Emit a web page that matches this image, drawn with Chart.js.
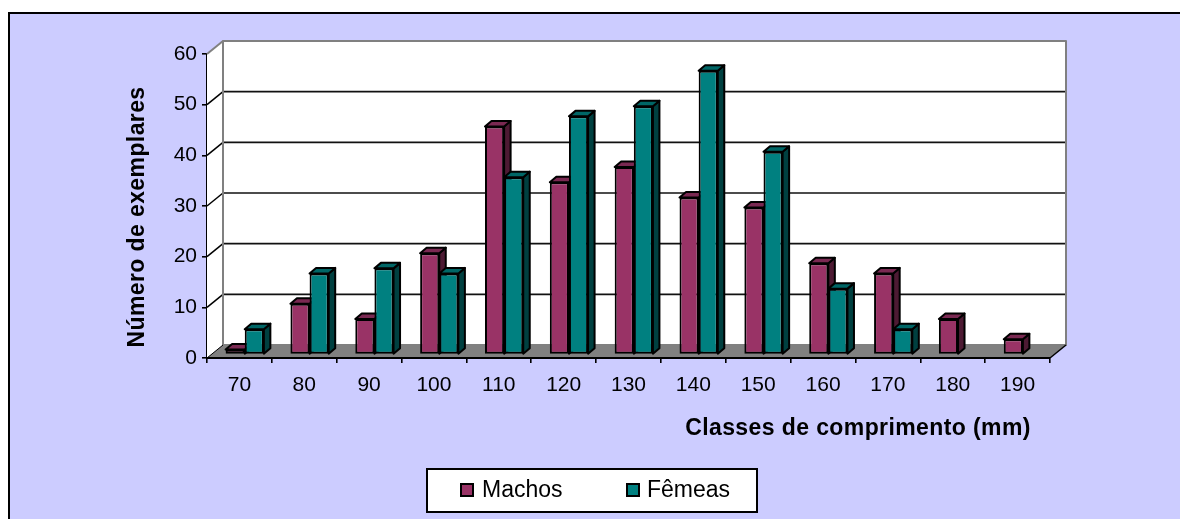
<!DOCTYPE html>
<html lang="pt">
<head>
    <meta charset="UTF-8">
    <title>Classes de comprimento</title>
    <script src="https://cdn.jsdelivr.net/npm/chart.js"></script>
    <style>
        html, body {
            margin: 0;
            background: #fff;
            overflow: hidden;
        }
        /* panel runs off the right and bottom of the window */
        .chart-panel {
            position: absolute;
            left: 8px;
            top: 12px;
            width: 1300px;
            height: 600px;
            border: 2px solid #000;
            background: #ccccff;
        }
        #graph {
            position: absolute;
            left: 0;
            top: 0;
        }
    </style>
</head>
<body>
    <div class="chart-panel"></div>
    <canvas id="graph" width="1180" height="519"></canvas>

    <script>
        const categories = ['70', '80', '90', '100', '110', '120', '130', '140', '150', '160', '170', '180', '190'];
        const machos = [1, 10, 7, 20, 45, 34, 37, 31, 29, 18, 16, 7, 3];
        const femeas = [5, 16, 17, 16, 35, 47, 49, 56, 40, 13, 5, 0, 0];

        const FONT = '"Liberation Sans", Arial, sans-serif';

        // box depth of the walls and floor, and of the bars standing on the floor
        const WALL_DX = 16, WALL_DY = -13;
        const BAR_DX = 5.3, BAR_DY = -3.5;
        const SIDE_DX = 6.5, SIDE_DY = -5.5;

        const seriesStyles = [
            { front: '#993366', side: '#4d1a33', top: '#7a2952' },
            { front: '#008080', side: '#004040', top: '#006666' }
        ];

        function polygon(ctx, pts, fill, stroke, lineWidth) {
            ctx.beginPath();
            pts.forEach((p, i) => i ? ctx.lineTo(p[0], p[1]) : ctx.moveTo(p[0], p[1]));
            ctx.closePath();
            if (fill) {
                ctx.fillStyle = fill;
                ctx.fill();
            }
            if (stroke) {
                ctx.strokeStyle = stroke;
                ctx.lineWidth = lineWidth;
                ctx.lineJoin = 'round';
                ctx.stroke();
            }
        }

        function line(ctx, x1, y1, x2, y2, color, width) {
            ctx.beginPath();
            ctx.moveTo(x1, y1);
            ctx.lineTo(x2, y2);
            ctx.strokeStyle = color;
            ctx.lineWidth = width;
            ctx.stroke();
        }

        // walls, floor and gridlines behind the bars
        const boxPlugin = {
            id: 'box',
            beforeDatasetsDraw(chart) {
                const ctx = chart.ctx;
                const { left, right, top, bottom } = chart.chartArea;
                const yScale = chart.scales.y;
                ctx.save();
                polygon(ctx, [[left, top], [left + WALL_DX, top + WALL_DY], [left + WALL_DX, bottom + WALL_DY], [left, bottom]], '#fff');
                polygon(ctx, [[left + WALL_DX, top + WALL_DY], [right + WALL_DX, top + WALL_DY], [right + WALL_DX, bottom + WALL_DY], [left + WALL_DX, bottom + WALL_DY]], '#fff');

                yScale.ticks.forEach(tick => {
                    if (tick.value === 0 || tick.value === yScale.max) return;
                    const y = yScale.getPixelForValue(tick.value);
                    line(ctx, left, y, left + WALL_DX, y + WALL_DY, '#000', 1.5);
                    line(ctx, left + WALL_DX, y + WALL_DY, right + WALL_DX, y + WALL_DY, '#111', 1.6);
                });

                polygon(ctx, [[left + WALL_DX, top + WALL_DY], [right + WALL_DX, top + WALL_DY], [right + WALL_DX, bottom + WALL_DY], [left + WALL_DX, bottom + WALL_DY]], null, '#808080', 2);
                line(ctx, left, top, left + WALL_DX, top + WALL_DY, '#808080', 2);
                polygon(ctx, [[left, bottom], [right, bottom], [right + WALL_DX, bottom + WALL_DY], [left + WALL_DX, bottom + WALL_DY]], '#808080');
                line(ctx, right, bottom, right + WALL_DX, bottom + WALL_DY, '#000', 1.5);
                line(ctx, left, bottom, left + WALL_DX, bottom + WALL_DY, '#000', 1);
                line(ctx, left - 1, bottom, right, bottom, '#000', 2);
                ctx.restore();

                // bars go category by category so each one covers its left neighbour's side
                categories.forEach((_, i) => {
                    chart.data.datasets.forEach((ds, d) => {
                        if (!ds.data[i]) return;
                        drawBar(ctx, chart.getDatasetMeta(d).data[i], seriesStyles[d]);
                    });
                });
                return false;
            },
            afterDraw(chart) {
                drawTitles(chart.ctx);
                drawLegend(chart.ctx);
            }
        };

        function drawBar(ctx, bar, style) {
            const half = bar.width / 2;
            const xl = bar.x - half, xr = bar.x + half;
            ctx.save();
            ctx.translate(BAR_DX, BAR_DY);
            polygon(ctx, [[xr, bar.y], [xr + SIDE_DX, bar.y + SIDE_DY], [xr + SIDE_DX, bar.base + SIDE_DY], [xr, bar.base]], style.side, '#000', 2);
            polygon(ctx, [[xl, bar.y], [xl + SIDE_DX, bar.y + SIDE_DY], [xr + SIDE_DX, bar.y + SIDE_DY], [xr, bar.y]], style.top, '#000', 2);
            bar.draw(ctx);
            ctx.restore();
        }

        function drawTitles(ctx) {
            ctx.save();
            ctx.fillStyle = '#000';
            ctx.font = 'bold 23px ' + FONT;
            ctx.textAlign = 'center';
            ctx.textBaseline = 'middle';
            ctx.letterSpacing = '0.4px';
            ctx.fillText('Classes de comprimento (mm)', 858, 429);
            ctx.translate(138, 217);
            ctx.rotate(-Math.PI / 2);
            ctx.fillText('Número de exemplares', 0, 0);
            ctx.restore();
        }

        function drawLegend(ctx) {
            ctx.save();
            ctx.fillStyle = '#fff';
            ctx.fillRect(427, 469, 330, 43);
            ctx.strokeStyle = '#000';
            ctx.lineWidth = 2;
            ctx.strokeRect(427, 469, 330, 43);
            [['Machos', 461, 482], ['Fêmeas', 627, 647]].forEach((entry, i) => {
                ctx.fillStyle = seriesStyles[i].front;
                ctx.fillRect(entry[1], 484, 12, 12);
                ctx.strokeRect(entry[1], 484, 12, 12);
                ctx.fillStyle = '#000';
                ctx.font = '23px ' + FONT;
                ctx.textBaseline = 'middle';
                ctx.fillText(entry[0], entry[2], 491);
            });
            ctx.restore();
        }

        new Chart(document.getElementById('graph'), {
            type: 'bar',
            data: {
                labels: categories,
                datasets: [
                    { label: 'Machos', data: machos, backgroundColor: seriesStyles[0].front },
                    { label: 'Fêmeas', data: femeas, backgroundColor: seriesStyles[1].front }
                ]
            },
            options: {
                responsive: false,
                animation: false,
                layout: { padding: { left: 0, right: 130, top: 54, bottom: 0 } },
                datasets: {
                    bar: {
                        barPercentage: 1,
                        categoryPercentage: 0.59,
                        borderColor: '#000',
                        borderWidth: 2,
                        borderSkipped: false
                    }
                },
                scales: {
                    x: {
                        afterFit: s => { s.height = 161; },
                        border: { color: '#000', width: 2 },
                        grid: { drawOnChartArea: false, color: '#000', tickLength: 5, lineWidth: 1.6 },
                        ticks: { color: '#000', padding: 10, maxRotation: 0, font: { family: FONT, size: 21 } }
                    },
                    y: {
                        min: 0,
                        max: 60,
                        afterFit: s => { s.width = 207; },
                        border: { color: '#000', width: 2 },
                        grid: { drawOnChartArea: false, color: '#000', tickLength: 5, lineWidth: 1.6 },
                        ticks: { stepSize: 10, color: '#000', padding: 5, font: { family: FONT, size: 21 } }
                    }
                },
                plugins: {
                    legend: { display: false },
                    title: { display: false }
                }
            },
            plugins: [boxPlugin]
        });
    </script>
</body>
</html>
